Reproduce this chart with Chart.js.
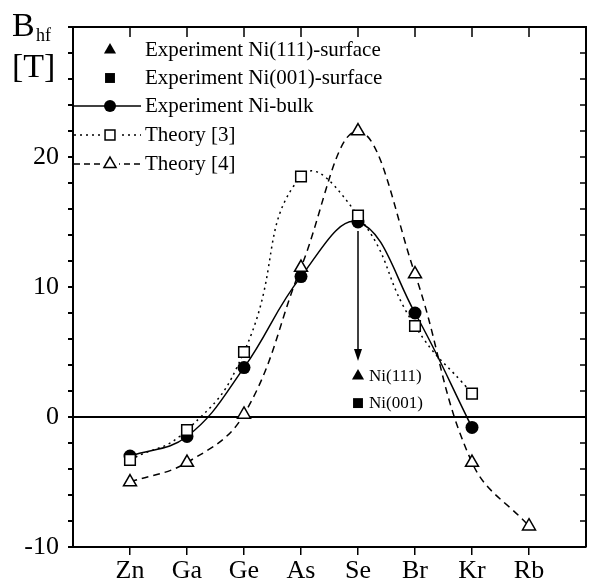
<!DOCTYPE html>
<html>
<head>
<meta charset="utf-8">
<script src="https://cdn.jsdelivr.net/npm/chart.js@4.4.0/dist/chart.umd.min.js"></script>
<style>
  html, body { margin: 0; padding: 0; background: #fff; }
  #wrap { width: 595px; height: 584px; }
</style>
</head>
<body>
<div id="wrap"><canvas id="chart" width="595" height="584"></canvas></div>
<script>
const elements = ["Zn", "Ga", "Ge", "As", "Se", "Br", "Kr", "Rb"];
const xPositions = [1, 2, 3, 4, 5, 6, 7, 8];
const bulkValues = [-3.0, -1.5, 3.8, 10.8, 15.0, 8.0, -0.8];
const theory3Values = [-3.3, -1.0, 5.0, 18.5, 15.5, 7.0, 1.8];
const theory4Values = [-5.0, -3.5, 0.2, 11.5, 22.0, 11.0, -3.5, -8.4];
// surface values measured at Se only
const ni111Values = [3.15];
const ni001Values = [1.07];
const yTickLabels = [-10, 0, 10, 20];

const SERIF = "'Liberation Serif', 'DejaVu Serif', serif";

function toPoints(values) {
    return values.map((v, i) => ({ x: xPositions[i], y: v }));
}

function near(a, b) {
    return Math.abs(a - b) < 1e-6;
}

// top/right frame with inward ticks, legend, arrow and labels
const extrasPlugin = {
    id: "extras",
    afterDraw(chart) {
        const ctx = chart.ctx;
        const area = chart.chartArea;
        const xs = chart.scales.x;
        const ys = chart.scales.y;
        ctx.save();
        ctx.strokeStyle = "#000";
        ctx.fillStyle = "#000";

        // frame
        ctx.lineWidth = 2;
        ctx.beginPath();
        ctx.moveTo(area.left, area.top);
        ctx.lineTo(area.right, area.top);
        ctx.lineTo(area.right, area.bottom);
        ctx.stroke();
        ctx.lineWidth = 1.5;
        ctx.beginPath();
        xPositions.forEach(v => {
            const px = xs.getPixelForValue(v);
            ctx.moveTo(px, area.top);
            ctx.lineTo(px, area.top + 10);
        });
        for (let v = -8; v < 30; v += 2) {
            const py = ys.getPixelForValue(v);
            ctx.moveTo(area.right, py);
            ctx.lineTo(area.right - 6, py);
        }
        ctx.stroke();

        // axis title
        ctx.textBaseline = "alphabetic";
        ctx.textAlign = "left";
        ctx.font = "34px " + SERIF;
        ctx.fillText("B", 12, 36);
        ctx.font = "18px " + SERIF;
        ctx.fillText("hf", 36, 41);
        ctx.font = "34px " + SERIF;
        ctx.fillText("[T]", 12, 77);

        // legend
        const legend = [
            { label: "Experiment Ni(111)-surface", style: "triangle", fill: true, dash: null, y: 50 },
            { label: "Experiment Ni(001)-surface", style: "rect", fill: true, dash: null, y: 78 },
            { label: "Experiment Ni-bulk", style: "circle", fill: true, dash: [], y: 106 },
            { label: "Theory [3]", style: "rect", fill: false, dash: [2, 4], y: 135 },
            { label: "Theory [4]", style: "triangle", fill: false, dash: [6, 4], y: 164 }
        ];
        ctx.font = "21px " + SERIF;
        ctx.textBaseline = "middle";
        legend.forEach(item => {
            if (item.dash) {
                ctx.lineWidth = 1.5;
                ctx.setLineDash(item.dash);
                ctx.beginPath();
                ctx.moveTo(74, item.y);
                ctx.lineTo(141, item.y);
                ctx.stroke();
                ctx.setLineDash([]);
            }
            ctx.lineWidth = 1.5;
            const r = item.style === "circle" ? 6 : 7;
            if (item.dash && !item.fill) {
                ctx.fillStyle = "#fff";
                ctx.fillRect(101, item.y - 7, 18, 14);
            }
            ctx.fillStyle = item.fill ? "#000" : "#fff";
            Chart.helpers.drawPoint(ctx, { pointStyle: item.style, radius: r, borderWidth: item.fill ? 0 : 1.5 }, 110, item.y);
            ctx.fillStyle = "#000";
            ctx.fillText(item.label, 145, item.y);
        });

        // arrow from bulk Se point down to the surface values
        const ax = xs.getPixelForValue(5);
        const yStart = ys.getPixelForValue(bulkValues[4]) + 9;
        const yEnd = ys.getPixelForValue(4.3);
        ctx.lineWidth = 1.5;
        ctx.beginPath();
        ctx.moveTo(ax, yStart);
        ctx.lineTo(ax, yEnd - 10);
        ctx.stroke();
        ctx.beginPath();
        ctx.moveTo(ax - 4, yEnd - 12);
        ctx.lineTo(ax + 4, yEnd - 12);
        ctx.lineTo(ax, yEnd);
        ctx.closePath();
        ctx.fill();

        ctx.font = "17px " + SERIF;
        ctx.textBaseline = "middle";
        ctx.fillText("Ni(111)", ax + 11, ys.getPixelForValue(ni111Values[0]));
        ctx.fillText("Ni(001)", ax + 11, ys.getPixelForValue(ni001Values[0]));
        ctx.restore();
    }
};

new Chart(document.getElementById("chart"), {
    type: "scatter",
    data: {
        datasets: [
            {
                label: "Theory [4]",
                data: toPoints(theory4Values),
                showLine: true,
                tension: 0.4,
                borderColor: "#000",
                borderWidth: 1.5,
                borderDash: [7, 5],
                pointStyle: "triangle",
                pointRadius: 7.5,
                pointBackgroundColor: "#fff",
                pointBorderColor: "#000",
                pointBorderWidth: 1.5
            },
            {
                label: "Theory [3]",
                data: toPoints(theory3Values),
                showLine: true,
                tension: 0.5,
                borderColor: "#000",
                borderWidth: 1.5,
                borderDash: [2, 4],
                pointStyle: "rect",
                pointRadius: 7.5,
                pointBackgroundColor: "#fff",
                pointBorderColor: "#000",
                pointBorderWidth: 1.5
            },
            {
                label: "Experiment Ni-bulk",
                data: toPoints(bulkValues),
                showLine: true,
                tension: 0.4,
                borderColor: "#000",
                borderWidth: 1.5,
                pointStyle: "circle",
                pointRadius: 6.5,
                pointBackgroundColor: "#000",
                pointBorderColor: "#000",
                pointBorderWidth: 0
            },
            {
                label: "Experiment Ni(111)-surface",
                data: ni111Values.map(v => ({ x: 5, y: v })),
                pointStyle: "triangle",
                pointRadius: 7,
                pointBackgroundColor: "#000",
                pointBorderColor: "#000",
                pointBorderWidth: 0
            },
            {
                label: "Experiment Ni(001)-surface",
                data: ni001Values.map(v => ({ x: 5, y: v })),
                pointStyle: "rect",
                pointRadius: 7,
                pointBackgroundColor: "#000",
                pointBorderColor: "#000",
                pointBorderWidth: 0
            }
        ]
    },
    options: {
        responsive: false,
        devicePixelRatio: 1,
        animation: false,
        layout: { padding: { top: 27, right: 2, left: 0, bottom: 0 } },
        plugins: {
            legend: { display: false },
            tooltip: { enabled: false }
        },
        scales: {
            x: {
                type: "linear",
                min: 0,
                max: 9,
                afterBuildTicks: scale => { scale.ticks = xPositions.map(v => ({ value: v })); },
                afterFit: scale => { scale.height = 37; },
                ticks: {
                    callback: v => elements[Math.round(v) - 1] || "",
                    color: "#000",
                    font: { family: SERIF, size: 26 },
                    padding: 1,
                    maxRotation: 0,
                    autoSkip: false
                },
                grid: {
                    drawOnChartArea: false,
                    color: "#000",
                    tickLength: 8,
                    lineWidth: 1.5
                },
                border: { color: "#000", width: 2 }
            },
            y: {
                min: -10,
                max: 30,
                afterBuildTicks: scale => {
                    const t = [];
                    for (let v = -10; v <= 30; v += 2) t.push({ value: v });
                    scale.ticks = t;
                },
                afterFit: scale => { scale.width = 73; },
                ticks: {
                    callback: v => yTickLabels.some(l => near(l, v)) ? String(Math.round(v)) : "",
                    color: "#000",
                    font: { family: SERIF, size: 26 },
                    padding: 9,
                    autoSkip: false
                },
                grid: {
                    color: c => c.tick && near(c.tick.value, 0) ? "#000" : "rgba(0,0,0,0)",
                    tickColor: "#000",
                    tickLength: 5,
                    lineWidth: 2
                },
                border: { color: "#000", width: 2 }
            }
        }
    },
    plugins: [extrasPlugin]
});
</script>
</body>
</html>
